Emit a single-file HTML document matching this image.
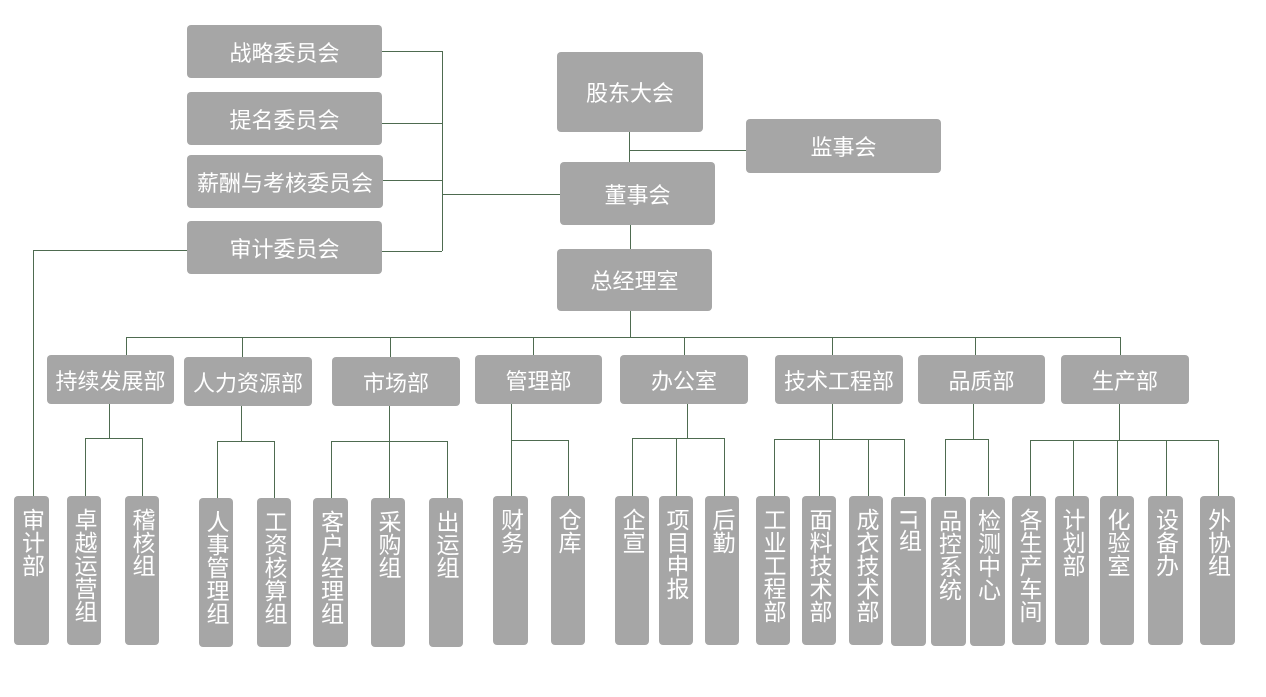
<!DOCTYPE html>
<html><head><meta charset="utf-8"><style>
body{margin:0;width:1266px;height:697px;background:#fff;position:relative;overflow:hidden;font-family:"Liberation Sans","Noto Sans CJK SC",sans-serif;}
.b{position:absolute;background:#a6a6a6;color:#fff;border-radius:4px;display:flex;align-items:center;justify-content:center;font-size:22px;white-space:nowrap;}
.v{position:absolute;background:#a6a6a6;color:#fff;border-radius:4px;font-size:23px;line-height:24px;writing-mode:vertical-rl;text-orientation:upright;display:flex;justify-content:flex-start;align-items:center;padding-top:12px;box-sizing:border-box;}
.h{position:absolute;height:1px;background:#4e6b50;}
.l{position:absolute;width:1px;background:#4e6b50;}
</style></head><body>
<div class="b" style="left:187px;top:25px;width:195px;height:53px">战略委员会</div>
<div class="b" style="left:187px;top:92px;width:195px;height:53px">提名委员会</div>
<div class="b" style="left:187px;top:155px;width:196px;height:53px">薪酬与考核委员会</div>
<div class="b" style="left:187px;top:221px;width:195px;height:53px">审计委员会</div>
<div class="h" style="left:382px;top:51px;width:60px"></div>
<div class="h" style="left:382px;top:123px;width:60px"></div>
<div class="h" style="left:383px;top:180px;width:59px"></div>
<div class="h" style="left:382px;top:251px;width:60px"></div>
<div class="l" style="left:442px;top:51px;height:200px"></div>
<div class="h" style="left:442px;top:194px;width:118px"></div>
<div class="b" style="left:557px;top:52px;width:146px;height:80px">股东大会</div>
<div class="b" style="left:746px;top:119px;width:195px;height:54px">监事会</div>
<div class="l" style="left:629px;top:132px;height:30px"></div>
<div class="h" style="left:629px;top:150px;width:117px"></div>
<div class="b" style="left:560px;top:162px;width:155px;height:63px">董事会</div>
<div class="l" style="left:630px;top:225px;height:24px"></div>
<div class="b" style="left:557px;top:249px;width:155px;height:62px">总经理室</div>
<div class="l" style="left:630px;top:311px;height:26px"></div>
<div class="h" style="left:126px;top:337px;width:995px"></div>
<div class="h" style="left:33px;top:250px;width:154px"></div>
<div class="l" style="left:33px;top:250px;height:246px"></div>
<div class="b" style="left:47px;top:355px;width:127px;height:49px">持续发展部</div>
<div class="b" style="left:184px;top:357px;width:128px;height:49px">人力资源部</div>
<div class="b" style="left:332px;top:357px;width:128px;height:49px">市场部</div>
<div class="b" style="left:475px;top:355px;width:127px;height:49px">管理部</div>
<div class="b" style="left:620px;top:355px;width:128px;height:49px">办公室</div>
<div class="b" style="left:775px;top:355px;width:128px;height:49px">技术工程部</div>
<div class="b" style="left:918px;top:355px;width:127px;height:49px">品质部</div>
<div class="b" style="left:1061px;top:355px;width:128px;height:49px">生产部</div>
<div class="l" style="left:126px;top:337px;height:18px"></div>
<div class="l" style="left:242px;top:337px;height:20px"></div>
<div class="l" style="left:390px;top:337px;height:20px"></div>
<div class="l" style="left:533px;top:337px;height:18px"></div>
<div class="l" style="left:684px;top:337px;height:18px"></div>
<div class="l" style="left:832px;top:337px;height:18px"></div>
<div class="l" style="left:975px;top:337px;height:18px"></div>
<div class="l" style="left:1120px;top:337px;height:18px"></div>
<div class="l" style="left:109px;top:404px;height:34px"></div>
<div class="h" style="left:85px;top:438px;width:57px"></div>
<div class="l" style="left:85px;top:438px;height:58px"></div>
<div class="l" style="left:142px;top:438px;height:58px"></div>
<div class="l" style="left:241px;top:406px;height:35px"></div>
<div class="h" style="left:217px;top:441px;width:57px"></div>
<div class="l" style="left:217px;top:441px;height:57px"></div>
<div class="l" style="left:274px;top:441px;height:57px"></div>
<div class="l" style="left:389px;top:406px;height:92px"></div>
<div class="h" style="left:331px;top:441px;width:116px"></div>
<div class="l" style="left:331px;top:441px;height:57px"></div>
<div class="l" style="left:447px;top:441px;height:57px"></div>
<div class="l" style="left:511px;top:404px;height:92px"></div>
<div class="h" style="left:511px;top:440px;width:57px"></div>
<div class="l" style="left:568px;top:440px;height:56px"></div>
<div class="l" style="left:687px;top:404px;height:34px"></div>
<div class="h" style="left:632px;top:438px;width:92px"></div>
<div class="l" style="left:632px;top:438px;height:58px"></div>
<div class="l" style="left:676px;top:438px;height:58px"></div>
<div class="l" style="left:724px;top:438px;height:58px"></div>
<div class="l" style="left:832px;top:404px;height:35px"></div>
<div class="h" style="left:774px;top:439px;width:130px"></div>
<div class="l" style="left:774px;top:439px;height:57px"></div>
<div class="l" style="left:819px;top:439px;height:57px"></div>
<div class="l" style="left:868px;top:439px;height:57px"></div>
<div class="l" style="left:904px;top:439px;height:57px"></div>
<div class="l" style="left:973px;top:404px;height:35px"></div>
<div class="h" style="left:945px;top:439px;width:43px"></div>
<div class="l" style="left:945px;top:439px;height:57px"></div>
<div class="l" style="left:988px;top:439px;height:57px"></div>
<div class="l" style="left:1119px;top:404px;height:36px"></div>
<div class="h" style="left:1030px;top:440px;width:188px"></div>
<div class="l" style="left:1030px;top:440px;height:56px"></div>
<div class="l" style="left:1073px;top:440px;height:56px"></div>
<div class="l" style="left:1117px;top:440px;height:56px"></div>
<div class="l" style="left:1166px;top:440px;height:56px"></div>
<div class="l" style="left:1218px;top:440px;height:56px"></div>
<div class="v" style="left:14px;top:496px;width:35px;height:149px">审计部</div>
<div class="v" style="left:67px;top:496px;width:34px;height:149px">卓越运营组</div>
<div class="v" style="left:125px;top:496px;width:34px;height:149px">稽核组</div>
<div class="v" style="left:199px;top:498px;width:34px;height:149px">人事管理组</div>
<div class="v" style="left:257px;top:498px;width:34px;height:149px">工资核算组</div>
<div class="v" style="left:313px;top:498px;width:35px;height:149px">客户经理组</div>
<div class="v" style="left:371px;top:498px;width:34px;height:149px">采购组</div>
<div class="v" style="left:429px;top:498px;width:34px;height:149px">出运组</div>
<div class="v" style="left:493px;top:496px;width:35px;height:149px">财务</div>
<div class="v" style="left:551px;top:496px;width:34px;height:149px">仓库</div>
<div class="v" style="left:615px;top:496px;width:34px;height:149px">企宣</div>
<div class="v" style="left:659px;top:496px;width:34px;height:149px">项目申报</div>
<div class="v" style="left:705px;top:496px;width:34px;height:149px">后勤</div>
<div class="v" style="left:756px;top:496px;width:34px;height:149px">工业工程部</div>
<div class="v" style="left:802px;top:496px;width:34px;height:149px">面料技术部</div>
<div class="v" style="left:849px;top:496px;width:34px;height:149px">成衣技术部</div>
<div class="v" style="left:891px;top:497px;width:35px;height:149px"><span style="text-orientation:sideways">IT</span>组</div>
<div class="v" style="left:931px;top:497px;width:35px;height:149px">品控系统</div>
<div class="v" style="left:970px;top:497px;width:35px;height:149px">检测中心</div>
<div class="v" style="left:1012px;top:496px;width:34px;height:149px">各生产车间</div>
<div class="v" style="left:1055px;top:496px;width:34px;height:149px">计划部</div>
<div class="v" style="left:1100px;top:496px;width:34px;height:149px">化验室</div>
<div class="v" style="left:1148px;top:496px;width:35px;height:149px">设备办</div>
<div class="v" style="left:1200px;top:496px;width:35px;height:149px">外协组</div>
</body></html>
